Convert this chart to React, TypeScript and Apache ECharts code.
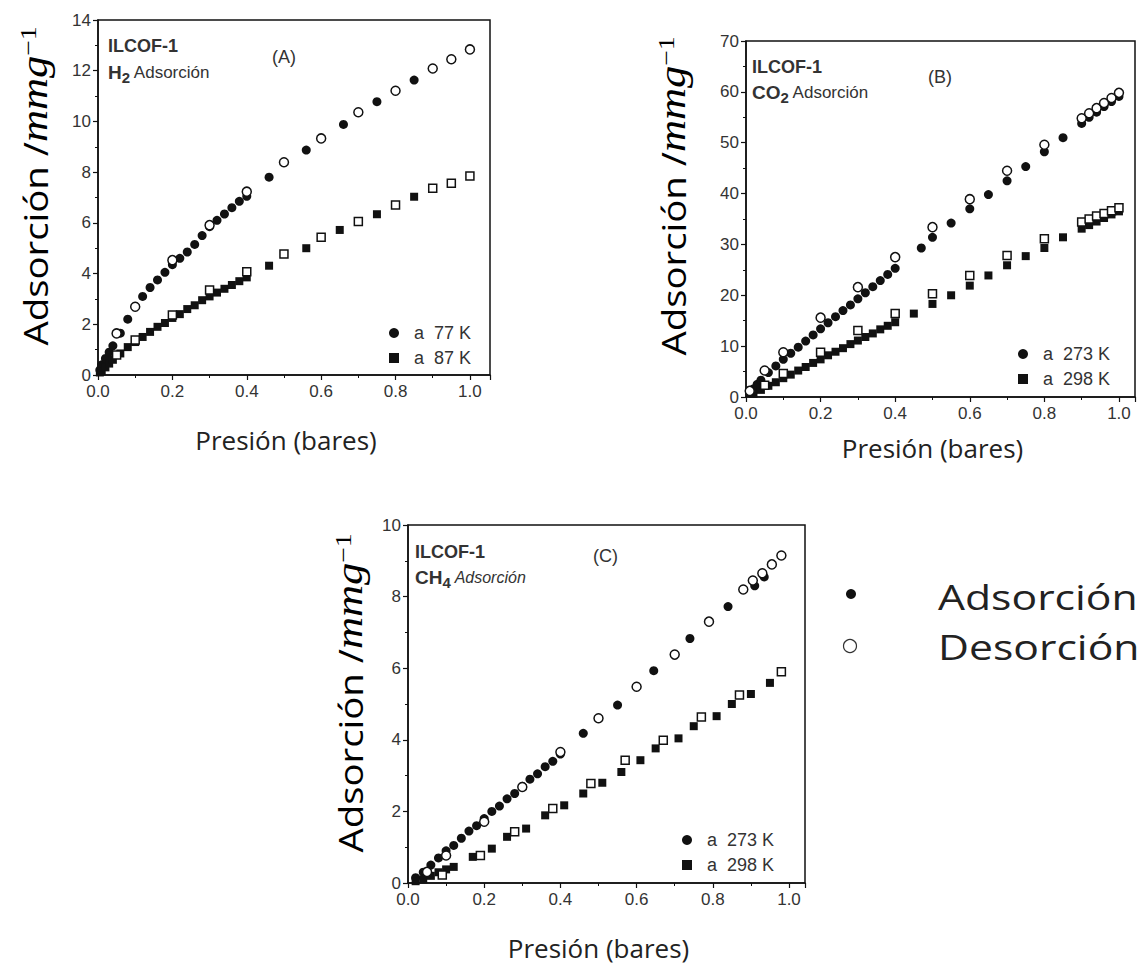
import React, { useEffect, useRef } from "react";
import * as echarts from "echarts";

// ---------- Panel A: H2 (ILCOF-1) ----------
const aX77Ads = [0.005, 0.01, 0.02, 0.03, 0.04, 0.06, 0.08, 0.1, 0.12, 0.14, 0.16, 0.18, 0.2, 0.22, 0.24, 0.26, 0.28, 0.3, 0.32, 0.34, 0.36, 0.38, 0.4, 0.46, 0.56, 0.66, 0.75, 0.85];
const aY77Ads = [0.2, 0.4, 0.65, 0.9, 1.15, 1.65, 2.2, 2.7, 3.1, 3.45, 3.75, 4.05, 4.35, 4.6, 4.85, 5.15, 5.5, 5.85, 6.1, 6.35, 6.6, 6.85, 7.05, 7.8, 8.87, 9.88, 10.78, 11.63];
const aX77Des = [0.05, 0.1, 0.2, 0.3, 0.4, 0.5, 0.6, 0.7, 0.8, 0.9, 0.95, 1.0];
const aY77Des = [1.64, 2.69, 4.53, 5.91, 7.23, 8.39, 9.33, 10.36, 11.21, 12.09, 12.45, 12.84];
const aX87Ads = [0.005, 0.01, 0.02, 0.03, 0.04, 0.06, 0.08, 0.1, 0.12, 0.14, 0.16, 0.18, 0.2, 0.22, 0.24, 0.26, 0.28, 0.3, 0.32, 0.34, 0.36, 0.38, 0.4, 0.46, 0.56, 0.65, 0.75, 0.85];
const aY87Ads = [0.1, 0.15, 0.3, 0.45, 0.6, 0.85, 1.1, 1.3, 1.5, 1.7, 1.9, 2.05, 2.25, 2.4, 2.6, 2.75, 2.95, 3.1, 3.25, 3.4, 3.55, 3.7, 3.85, 4.31, 5.0, 5.72, 6.34, 7.03];
const aX87Des = [0.05, 0.1, 0.2, 0.3, 0.4, 0.5, 0.6, 0.7, 0.8, 0.9, 0.95, 1.0];
const aY87Des = [0.79, 1.38, 2.37, 3.35, 4.07, 4.77, 5.43, 6.05, 6.7, 7.36, 7.56, 7.85];

// ---------- Panel B: CO2 ----------
const bX273Ads = [0.01, 0.02, 0.03, 0.04, 0.06, 0.08, 0.1, 0.12, 0.14, 0.16, 0.18, 0.2, 0.22, 0.24, 0.26, 0.28, 0.3, 0.32, 0.34, 0.36, 0.38, 0.4, 0.47, 0.5, 0.55, 0.6, 0.65, 0.7, 0.75, 0.8, 0.85, 0.9, 0.92, 0.94, 0.96, 0.98, 1.0];
const bY273Ads = [0.8, 1.6, 2.5, 3.3, 4.8, 6.1, 7.4, 8.6, 9.8, 11.0, 12.2, 13.4, 14.6, 15.8, 17.0, 18.1, 19.3, 20.5, 21.7, 22.9, 24.1, 25.3, 29.3, 31.4, 34.2, 37.0, 39.8, 42.5, 45.3, 48.2, 51.0, 53.8, 55.0, 56.0, 57.1, 58.1, 59.1];
const bX273Des = [0.01, 0.05, 0.1, 0.2, 0.3, 0.4, 0.5, 0.6, 0.7, 0.8, 0.9, 0.92, 0.94, 0.96, 0.98, 1.0];
const bY273Des = [1.2, 5.2, 8.8, 15.6, 21.6, 27.5, 33.4, 38.9, 44.5, 49.6, 54.8, 55.8, 56.8, 57.8, 58.8, 59.8];
const bX298Ads = [0.02, 0.04, 0.06, 0.08, 0.1, 0.12, 0.14, 0.16, 0.18, 0.2, 0.22, 0.24, 0.26, 0.28, 0.3, 0.32, 0.34, 0.36, 0.38, 0.4, 0.45, 0.5, 0.55, 0.6, 0.65, 0.7, 0.75, 0.8, 0.85, 0.9, 0.92, 0.94, 0.96, 0.98, 1.0];
const bY298Ads = [0.6, 1.4, 2.2, 2.9, 3.7, 4.4, 5.2, 5.9, 6.7, 7.4, 8.2, 8.9, 9.6, 10.4, 11.1, 11.8, 12.5, 13.3, 14.0, 14.7, 16.4, 18.3, 20.0, 21.9, 23.9, 25.9, 27.7, 29.3, 31.4, 33.1, 33.8, 34.5, 35.2, 35.9, 36.5];
const bX298Des = [0.05, 0.1, 0.2, 0.3, 0.4, 0.5, 0.6, 0.7, 0.8, 0.9, 0.92, 0.94, 0.96, 0.98, 1.0];
const bY298Des = [2.3, 4.6, 8.8, 13.1, 16.4, 20.3, 23.9, 27.8, 31.1, 34.4, 35.0, 35.6, 36.1, 36.6, 37.2];

// ---------- Panel C: CH4 ----------
const cX273Ads = [0.02, 0.04, 0.06, 0.08, 0.1, 0.12, 0.14, 0.16, 0.18, 0.2, 0.22, 0.24, 0.26, 0.28, 0.3, 0.32, 0.34, 0.36, 0.38, 0.4, 0.46, 0.55, 0.645, 0.74, 0.84, 0.91, 0.935];
const cY273Ads = [0.15, 0.3, 0.5, 0.7, 0.9, 1.05, 1.25, 1.45, 1.6, 1.8, 2.0, 2.15, 2.35, 2.5, 2.7, 2.9, 3.05, 3.25, 3.4, 3.6, 4.18, 4.97, 5.93, 6.83, 7.72, 8.3, 8.55];
const cX273Des = [0.05, 0.1, 0.2, 0.3, 0.4, 0.5, 0.6, 0.7, 0.79, 0.88, 0.905, 0.93, 0.955, 0.98];
const cY273Des = [0.31, 0.77, 1.71, 2.68, 3.66, 4.6, 5.48, 6.38, 7.3, 8.2, 8.45, 8.65, 8.9, 9.15];
const cX298Ads = [0.02, 0.04, 0.06, 0.08, 0.1, 0.12, 0.17, 0.22, 0.26, 0.31, 0.36, 0.41, 0.46, 0.51, 0.56, 0.61, 0.65, 0.71, 0.75, 0.81, 0.85, 0.9, 0.95];
const cY298Ads = [0.05, 0.1, 0.2, 0.3, 0.38, 0.45, 0.73, 0.96, 1.29, 1.52, 1.89, 2.17, 2.5, 2.8, 3.1, 3.43, 3.76, 4.04, 4.38, 4.66, 5.0, 5.28, 5.59];
const cX298Des = [0.09, 0.19, 0.28, 0.38, 0.48, 0.57, 0.67, 0.77, 0.87, 0.98];
const cY298Des = [0.22, 0.77, 1.43, 2.08, 2.78, 3.43, 3.99, 4.64, 5.25, 5.9];

const xTicks = [0, 0.2, 0.4, 0.6, 0.8, 1.0];

const zip = (xs: number[], ys: number[]) => xs.map((x, i) => [x, ys[i]]);

const TICK_FONT = "Liberation Sans";
const TITLE_FONT = "Open Sans";

function xAxis(gridIndex: number, max: number, nameGap: number) {
  return {
    gridIndex,
    type: "value",
    min: 0,
    max,
    interval: 0.2,
    axisLine: { show: true, onZero: false, lineStyle: { color: "#111", width: 1.5 } },
    axisTick: { show: true, inside: false, length: 5, lineStyle: { color: "#111", width: 1.2 } },
    minorTick: { show: true, splitNumber: 2, length: 3, lineStyle: { color: "#111" } },
    splitLine: { show: false },
    axisLabel: {
      color: "#333",
      fontFamily: TICK_FONT,
      fontSize: 17,
      margin: 8,
      formatter: (v: number) => (xTicks.some((t) => Math.abs(t - v) < 1e-6) ? v.toFixed(1) : ""),
    },
    name: "Presión (bares)",
    nameLocation: "middle",
    nameGap,
    nameTextStyle: { fontFamily: TITLE_FONT, fontSize: 26, color: "#222", padding: [0, 16, 0, 0] },
  };
}

function yAxis(gridIndex: number, max: number, interval: number) {
  return {
    gridIndex,
    type: "value",
    min: 0,
    max,
    interval,
    axisLine: { show: true, onZero: false, lineStyle: { color: "#111", width: 1.5 } },
    axisTick: { show: true, inside: false, length: 5, lineStyle: { color: "#111", width: 1.2 } },
    minorTick: { show: true, splitNumber: 2, length: 3, lineStyle: { color: "#111" } },
    splitLine: { show: false },
    axisLabel: { color: "#333", fontFamily: TICK_FONT, fontSize: 17, margin: 7 },
  };
}

function ads(name: string, idx: number, data: number[][], symbol: string) {
  return {
    name,
    type: "scatter",
    xAxisIndex: idx,
    yAxisIndex: idx,
    data,
    symbol,
    symbolSize: symbol === "rect" ? 8 : 9,
    itemStyle: { color: "#111", opacity: 1 },
    z: 2,
  };
}

function des(name: string, idx: number, data: number[][], symbol: string) {
  return {
    name,
    type: "scatter",
    xAxisIndex: idx,
    yAxisIndex: idx,
    data,
    symbol,
    symbolSize: symbol === "rect" ? 8 : 9,
    itemStyle: { color: "#fff", borderColor: "#111", borderWidth: 1.5, opacity: 1 },
    z: 3,
  };
}

function legend(left: number, top: number, names: string[]) {
  return {
    orient: "vertical",
    left,
    top,
    itemWidth: 10,
    itemHeight: 10,
    itemGap: 7,
    selectedMode: false,
    data: [
      { name: names[0], icon: "circle" },
      { name: names[1], icon: "rect" },
    ],
    formatter: (n: string) => "  " + n,
    textStyle: { fontFamily: TICK_FONT, fontSize: 18, color: "#333" },
  };
}

const yTitleRich = {
  a: { fontFamily: TITLE_FONT, fontSize: 32, color: "#222" },
  m: { fontFamily: "Liberation Serif", fontStyle: "italic", fontSize: 37, color: "#222" },
  s: { fontFamily: "Liberation Serif", fontSize: 23, color: "#222", verticalAlign: "top", lineHeight: 20 },
};

function yTitle(x: number, y: number) {
  return {
    type: "text",
    x,
    y,
    rotation: Math.PI / 2,
    scaleX: 1.2,
    style: {
      text: "{a|Adsorción /}{m|mmg}{s|−1}",
      rich: yTitleRich,
      align: "center",
      verticalAlign: "middle",
    },
  };
}

function label(x: number, y: number, text: string, rich?: any, extra?: any) {
  return {
    type: "text",
    x,
    y,
    style: Object.assign(
      {
        text,
        fontFamily: TICK_FONT,
        fontSize: 18,
        fontWeight: "bold",
        fill: "#333",
        verticalAlign: "middle",
        align: "left",
      },
      rich ? { rich } : {},
      extra || {}
    ),
  };
}

const subRich = {
  h: { fontFamily: TICK_FONT, fontSize: 19, fontWeight: "bold", color: "#333" },
  sub: { fontFamily: TICK_FONT, fontSize: 15, fontWeight: "bold", color: "#333", padding: [10, 0, 0, 0] },
  t: { fontFamily: TICK_FONT, fontSize: 17, color: "#444" },
  ti: { fontFamily: TICK_FONT, fontSize: 16, fontStyle: "italic", color: "#777" },
};

function bigLegendText(y: number, text: string) {
  return {
    type: "text",
    x: 938,
    y,
    scaleX: 1.22,
    style: { text, fontFamily: TITLE_FONT, fontSize: 35, fill: "#222", verticalAlign: "middle" },
  };
}

export default function App() {
  const ref = useRef<HTMLDivElement>(null);
  useEffect(() => {
    if (!ref.current) return;
    const chart = echarts.init(ref.current, null, { renderer: "svg" });
    const gridStyle = { show: true, borderColor: "#111", borderWidth: 1.5, containLabel: false };
    chart.setOption({
      animation: false,
      backgroundColor: "#fff",
      grid: [
        Object.assign({ left: 98, top: 20, width: 392, height: 355 }, gridStyle),
        Object.assign({ left: 746, top: 41, width: 389, height: 356 }, gridStyle),
        Object.assign({ left: 408, top: 525, width: 397, height: 358 }, gridStyle),
      ],
      xAxis: [xAxis(0, 1.054, 52), xAxis(1, 1.043, 38), xAxis(2, 1.042, 52)],
      yAxis: [yAxis(0, 14, 2), yAxis(1, 70, 10), yAxis(2, 10, 2)],
      legend: [
        legend(384, 319, ["a  77 K", "a  87 K"]),
        legend(1013, 340, ["a  273 K", "a  298 K"]),
        legend(677, 826, ["a  273 K", "a  298 K"]),
      ],
      series: [
        ads("a  77 K", 0, zip(aX77Ads, aY77Ads), "circle"),
        ads("a  87 K", 0, zip(aX87Ads, aY87Ads), "rect"),
        des("Desorción 77 K", 0, zip(aX77Des, aY77Des), "circle"),
        des("Desorción 87 K", 0, zip(aX87Des, aY87Des), "rect"),
        ads("a  273 K", 1, zip(bX273Ads, bY273Ads), "circle"),
        ads("a  298 K", 1, zip(bX298Ads, bY298Ads), "rect"),
        des("Desorción CO2 273 K", 1, zip(bX273Des, bY273Des), "circle"),
        des("Desorción CO2 298 K", 1, zip(bX298Des, bY298Des), "rect"),
        ads("a  273 K", 2, zip(cX273Ads, cY273Ads), "circle"),
        ads("a  298 K", 2, zip(cX298Ads, cY298Ads), "rect"),
        des("Desorción CH4 273 K", 2, zip(cX273Des, cY273Des), "circle"),
        des("Desorción CH4 298 K", 2, zip(cX298Des, cY298Des), "rect"),
      ],
      graphic: [
        yTitle(35, 186),
        yTitle(673, 196),
        yTitle(350, 693),
        label(108, 46, "ILCOF-1"),
        label(108, 72, "{h|H}{sub|2}{t| Adsorción}", subRich),
        label(272, 57, "(A)", undefined, { fontWeight: "normal" }),
        label(752, 67, "ILCOF-1"),
        label(752, 92, "{h|CO}{sub|2}{t| Adsorción}", subRich),
        label(928, 77, "(B)", undefined, { fontWeight: "normal" }),
        label(415, 552, "ILCOF-1"),
        label(415, 577, "{h|CH}{sub|4}{ti| Adsorción}", subRich),
        label(593, 556, "(C)", undefined, { fontWeight: "normal" }),
        { type: "circle", shape: { cx: 851, cy: 594, r: 5 }, style: { fill: "#111" } },
        { type: "circle", shape: { cx: 850, cy: 646, r: 6.5 }, style: { fill: "#fff", stroke: "#333", lineWidth: 1.2 } },
        bigLegendText(596, "Adsorción"),
        bigLegendText(646, "Desorción"),
      ],
    });
    return () => chart.dispose();
  }, []);
  return (
    <div
      ref={ref}
      style={{ position: "fixed", left: 0, top: 0, width: 1140, height: 968, background: "#fff" }}
    />
  );
}
